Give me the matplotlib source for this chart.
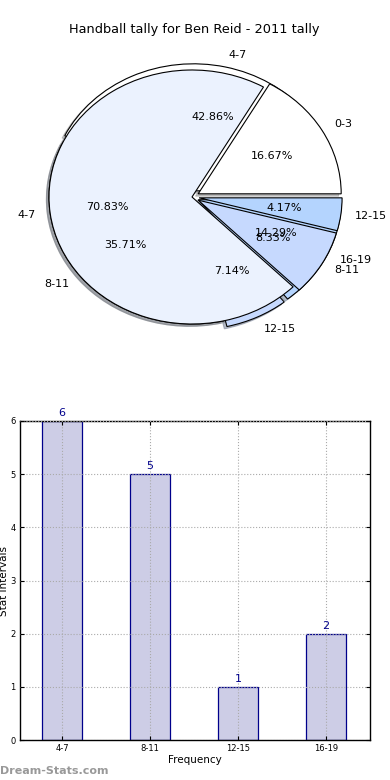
import matplotlib
matplotlib.use("Agg")
import matplotlib.pyplot as plt

title = "Handball tally for Ben Reid - 2011 tally"

# Pie 1 (all stats)
pie1_labels = ["0-3", "4-7", "8-11", "12-15"]
pie1_values = [4, 17, 2, 1]
# Pie 2 (same data as bars)
pie2_labels = ["4-7", "8-11", "12-15", "16-19"]
pie2_values = [6, 5, 1, 2]

bar_categories = ["4-7", "8-11", "12-15", "16-19"]
bar_values = [6, 5, 1, 2]

colors = ["white", "#ebf2fe", "#c6d9fe", "#b4d4fe"]
explode = [0.05, 0, 0.05, 0.05]

fig = plt.figure(figsize=(3.9, 7.8), dpi=100)

W, H = 390.0, 780.0
# Pie axes
cx, cy, rx, ry = 192.0, 197.0, 143.0, 127.0
axw, axh = rx * 2.5, ry * 2.5
ax = fig.add_axes([(cx - axw / 2) / W, 1 - (cy + axh / 2) / H, axw / W, axh / H])

wp = dict(edgecolor="black", linewidth=0.8)
tp = dict(fontsize=8)
sh = dict(ox=-0.013, oy=-0.013, shade=0.45)
ax.pie(pie2_values, labels=pie2_labels, colors=colors, explode=explode,
       autopct="%.2f%%", shadow=sh, startangle=0, wedgeprops=wp, textprops=tp)
ax.pie(pie1_values, labels=pie1_labels, colors=colors, explode=explode,
       autopct="%.2f%%", shadow=sh, startangle=0, wedgeprops=wp, textprops=tp)
ax.set_aspect("auto")
ax.set_xlim(-1.25, 1.25)
ax.set_ylim(-1.25, 1.25)
ax.axis("off")

fig.text(194 / W, 1 - 30 / H, title, ha="center", va="center", fontsize=9.3)

# Bar axes
ax2 = fig.add_axes([20 / W, 1 - 740 / H, 350 / W, 319 / H])
x = list(range(len(bar_categories)))
bars = ax2.bar(x, bar_values, width=0.45, color="#cdcde6", edgecolor="#00008b", linewidth=0.9, zorder=2)
ax2.bar_label(bars, labels=[str(v) for v in bar_values], padding=2, color="#00008b", fontsize=8)
ax2.set_xlim(-0.48, 3.5)
ax2.set_ylim(0, 6)
ax2.set_xticks(x)
ax2.set_xticklabels(bar_categories)
ax2.set_yticks(range(0, 7))
ax2.tick_params(axis="both", labelsize=6, direction="in", length=3, top=True, right=True, pad=3)
ax2.grid(True, linestyle=":", color="#aaaaaa", linewidth=0.8, zorder=3)
ax2.set_axisbelow(False)
for s in ax2.spines.values():
    s.set_linewidth(1.0)
ax2.set_xlabel("Frequency", fontsize=7.5, labelpad=1)
ax2.set_ylabel("Stat intervals", fontsize=7.5, labelpad=1)

fig.text(0.0, 1 - 771 / H, "Dream-Stats.com", ha="left", va="center", fontsize=8,
         color="#999999", fontweight="bold")

fig.savefig("out.png", dpi=100)
